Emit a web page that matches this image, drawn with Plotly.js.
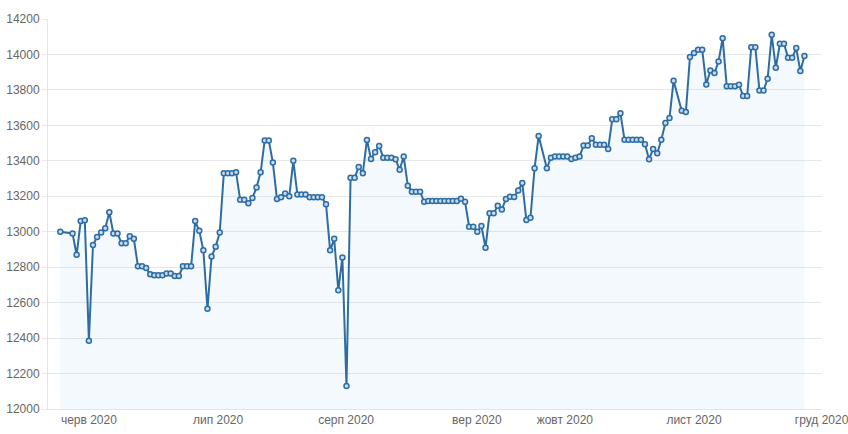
<!DOCTYPE html>
<html>
<head>
<meta charset="utf-8">
<script src="https://cdn.plot.ly/plotly-3.0.1.min.js"></script>
<style>
html,body{margin:0;padding:0;background:#ffffff;}
#chart{width:848px;height:434px;}
</style>
</head>
<body>
<div id="chart"></div>
<script>
// Values; null = slot with no data point
const values = [
  13000, null, null, 12990, 12870, 13060, 13065, 12385, 12925, 12970,
  12995, 13020, 13110, 12990, 12990, 12935, 12935, 12975, 12960, 12805,
  12805, 12795, 12760, 12755, 12755, 12755, 12765, 12765, 12750, 12750,
  12805, 12805, 12805, 13060, 13005, 12895, 12565, 12860, 12915, 12995,
  13330, 13330, 13330, 13335, 13180, 13180, 13160, 13190, 13250, 13335,
  13515, 13515, 13390, 13185, 13195, 13215, 13200, 13400, 13210, 13210,
  13210, 13195, 13195, 13195, 13195, 13155, 12895, 12960, 12670, 12855,
  12130, 13305, 13305, 13365, 13330, 13518, 13410, 13448, 13484, 13418,
  13418, 13418, 13409, 13350, 13424, 13260, 13226, 13226, 13226, 13169,
  13173, 13173, 13173, 13173, 13173, 13173, 13173, 13173, 13186, 13169,
  13028, 13028, 13000, 13032, 12910, 13104, 13104, 13147, 13126, 13185,
  13198, 13196, 13232, 13275, 13066, 13079, 13358, 13540, null, 13358,
  13418, 13424, 13424, 13424, 13424, 13410, 13418, 13424, 13487, 13487,
  13528, 13490, 13490, 13490, 13466, 13635, 13635, 13669, 13519, 13519,
  13519, 13519, 13519, 13494, 13409, 13466, 13443, 13519, 13613, 13641,
  13852, null, 13682, 13675, 13985, 14008, 14026, 14026, 13831, 13910,
  13896, 13960, 14092, 13821, 13821, 13821, 13829, 13765, 13765, 14041,
  14041, 13797, 13797, 13863, 14111, 13925, 14060, 14060, 13981, 13981,
  14036, 13906, 13991
];
const slots = values.map((v, i) => i);

const monthTickSlots = [7, 38.6, 69.9, 101.9, 123.4, 155.0, 186.2];
const monthTickLabels = ['черв 2020', 'лип 2020', 'серп 2020', 'вер 2020', 'жовт 2020', 'лист 2020', 'груд 2020'];
const yTickValues = [12000, 12200, 12400, 12600, 12800, 13000, 13200, 13400, 13600, 13800, 14000, 14200];

const trace = {
  x: slots,
  y: values,
  type: 'scatter',
  mode: 'lines+markers',
  connectgaps: true,
  fill: 'tozeroy',
  fillcolor: 'rgba(66,153,225,0.06)',
  line: {color: '#2e6da4', width: 2},
  marker: {size: 5, color: '#c9ddef', line: {color: '#2e6da4', width: 1.5}},
  hoverinfo: 'skip'
};

const layout = {
  width: 848,
  height: 434,
  margin: {l: 48, r: 26, t: 19, b: 25},
  paper_bgcolor: '#ffffff',
  plot_bgcolor: '#ffffff',
  showlegend: false,
  font: {family: 'Arial, "Liberation Sans", sans-serif', size: 12, color: '#666666'},
  xaxis: {
    type: 'linear',
    range: [-3, 186.3],
    tickmode: 'array',
    tickvals: monthTickSlots,
    ticktext: monthTickLabels,
    ticklabeloverflow: 'allow',
    showgrid: false,
    zeroline: false,
    showline: true,
    linecolor: '#e4e4e4',
    linewidth: 1,
    ticks: '',
    tickfont: {size: 12, color: '#666666'}
  },
  yaxis: {
    range: [12000, 14200],
    tickmode: 'array',
    tickvals: yTickValues,
    ticktext: yTickValues.map(String),
    showgrid: true,
    gridcolor: '#e8e8e8',
    gridwidth: 1,
    zeroline: false,
    showline: true,
    linecolor: '#e4e4e4',
    ticks: 'outside',
    ticklen: 5,
    tickcolor: '#e8e8e8',
    tickfont: {size: 12, color: '#666666'}
  }
};

Plotly.newPlot('chart', [trace], layout, {displayModeBar: false, staticPlot: true});
</script>
</body>
</html>
